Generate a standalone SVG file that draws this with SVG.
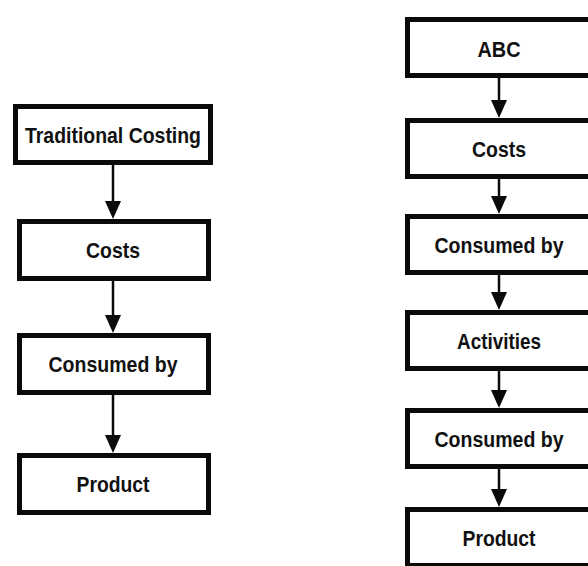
<svg xmlns="http://www.w3.org/2000/svg" width="588" height="566" viewBox="0 0 588 566">
<style>
.box{fill:#fff;stroke:#0a0a0a;stroke-width:5}
.lbl{font-family:"Liberation Sans",Arial,sans-serif;font-weight:bold;font-size:22px;fill:#111;text-anchor:middle}
.con{stroke:#0a0a0a;stroke-width:2.5;fill:none}
</style>
<defs>
<marker id="ah" markerUnits="userSpaceOnUse" viewBox="0 0 18 16" refX="14" refY="8" markerWidth="18" markerHeight="16" orient="auto">
<path d="M0,0 L18,8 L0,16 z" fill="#0a0a0a"/>
</marker>
</defs>
<rect width="588" height="566" fill="#fff"/>
<g id="connectors">
<line class="con" x1="113" y1="165" x2="113" y2="215" marker-end="url(#ah)"/>
<line class="con" x1="113" y1="281" x2="113" y2="329" marker-end="url(#ah)"/>
<line class="con" x1="113" y1="395" x2="113" y2="449" marker-end="url(#ah)"/>
<line class="con" x1="499" y1="78" x2="499" y2="114" marker-end="url(#ah)"/>
<line class="con" x1="499" y1="179" x2="499" y2="210" marker-end="url(#ah)"/>
<line class="con" x1="499" y1="275" x2="499" y2="306" marker-end="url(#ah)"/>
<line class="con" x1="499" y1="371" x2="499" y2="404" marker-end="url(#ah)"/>
<line class="con" x1="499" y1="469" x2="499" y2="503" marker-end="url(#ah)"/>
</g>
<g id="trad-costing"><rect class="box" x="15.5" y="106.5" width="195" height="56"/><text class="lbl" x="113" y="143" textLength="176" lengthAdjust="spacingAndGlyphs">Traditional Costing</text></g>
<g id="trad-costs"><rect class="box" x="19.5" y="221.5" width="189" height="57"/><text class="lbl" x="113" y="258" textLength="54" lengthAdjust="spacingAndGlyphs">Costs</text></g>
<g id="trad-consumed"><rect class="box" x="19.5" y="335.5" width="189" height="57"/><text class="lbl" x="113" y="372" textLength="129" lengthAdjust="spacingAndGlyphs">Consumed by</text></g>
<g id="trad-product"><rect class="box" x="19.5" y="455.5" width="189" height="57"/><text class="lbl" x="113" y="492" textLength="73" lengthAdjust="spacingAndGlyphs">Product</text></g>
<g id="abc"><rect class="box" x="407.5" y="19.5" width="190" height="56"/><text class="lbl" x="499" y="57" textLength="43" lengthAdjust="spacingAndGlyphs">ABC</text></g>
<g id="abc-costs"><rect class="box" x="407.5" y="120.5" width="190" height="56"/><text class="lbl" x="499" y="156.5" textLength="54" lengthAdjust="spacingAndGlyphs">Costs</text></g>
<g id="abc-consumed1"><rect class="box" x="407.5" y="216.5" width="190" height="56"/><text class="lbl" x="499" y="252.5" textLength="129" lengthAdjust="spacingAndGlyphs">Consumed by</text></g>
<g id="abc-activities"><rect class="box" x="407.5" y="312.5" width="190" height="56"/><text class="lbl" x="499" y="348.5" textLength="84" lengthAdjust="spacingAndGlyphs">Activities</text></g>
<g id="abc-consumed2"><rect class="box" x="407.5" y="410.5" width="190" height="56"/><text class="lbl" x="499" y="447" textLength="129" lengthAdjust="spacingAndGlyphs">Consumed by</text></g>
<g id="abc-product"><rect class="box" x="407.5" y="509.5" width="190" height="56"/><text class="lbl" x="499" y="545.5" textLength="73" lengthAdjust="spacingAndGlyphs">Product</text></g>
</svg>
